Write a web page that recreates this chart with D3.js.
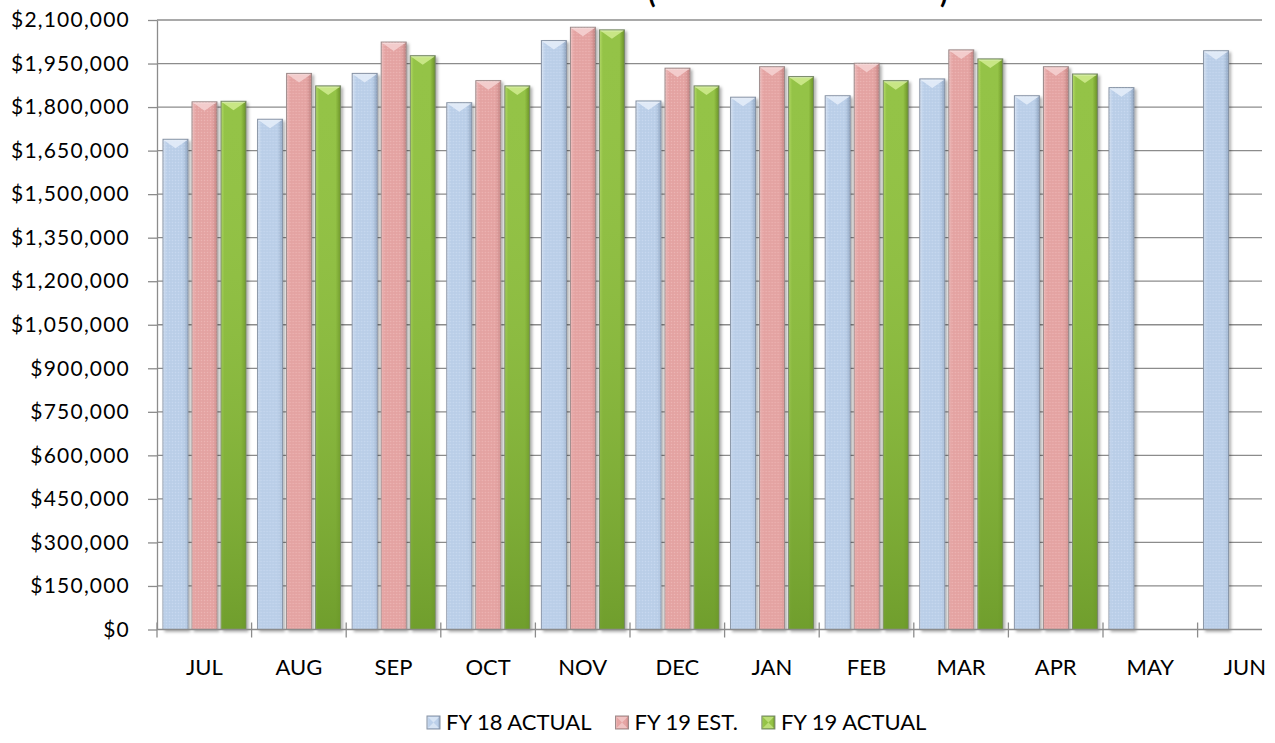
<!DOCTYPE html>
<html>
<head>
<meta charset="utf-8">
<script src="https://cdn.jsdelivr.net/npm/d3@7"></script>
<style>
  html, body { margin: 0; padding: 0; background: #ffffff; }
  svg { display: block; font-family: Lato, "Open Sans", sans-serif; }
</style>
</head>
<body>
<svg id="chart" width="1275" height="743"></svg>
<script>
// ---- data ----
const months = ["JUL", "AUG", "SEP", "OCT", "NOV", "DEC", "JAN", "FEB", "MAR", "APR", "MAY", "JUN"];
const seriesNames = ["FY 18 ACTUAL", "FY 19 EST.", "FY 19 ACTUAL"];
const fy18Actual = [1689000, 1758000, 1916000, 1815000, 2029000, 1821000, 1834000, 1839000, 1897000, 1839000, 1867000, 1994000];
const fy19Est    = [1818000, 1916000, 2024000, 1891000, 2075000, 1934000, 1939000, 1951000, 1997000, 1939000, null, null];
const fy19Actual = [1820000, 1873000, 1977000, 1873000, 2066000, 1873000, 1905000, 1891000, 1966000, 1914000, null, null];
const yTickValues = [0, 150000, 300000, 450000, 600000, 750000, 900000, 1050000, 1200000, 1350000, 1500000, 1650000, 1800000, 1950000, 2100000];
const titleParts = ["(", ")"];

// ---- bar styling per series ----
const seriesStyle = [
  { id: "blue",  left: "#dce8f6", body: "#bcd0ea", right: "#93a8c3", bottom: "#bcd0ea", bevel: "#e3ecf8", stroke: "#8591a3", speckle: true },
  { id: "pink",  left: "#f2c6c6", body: "#e6a5a4", right: "#c38584", bottom: "#e6a5a4", bevel: "#f4d0d0", stroke: "#9a8888", speckle: true },
  { id: "green", left: "#b4d96a", body: "#94c346", right: "#6a9127", bottom: "#6c9a2a", bevel: "#cdea8c", stroke: "#77876a", speckle: false }
];
const seriesValues = [fy18Actual, fy19Est, fy19Actual];

// ---- layout ----
const W = 1275, H = 743;
const plotLeft = 157, bandStep = 94.6, plotTop = 20, plotBottom = 629.5, plotRightVisible = 1262;

const svg = d3.select("#chart");
const defs = svg.append("defs");

const x = d3.scaleBand()
  .domain(months)
  .range([plotLeft, plotLeft + bandStep * months.length])
  .padding(0);

const xs = d3.scaleBand()
  .domain(seriesNames)
  .range([6, bandStep - 5.6])
  .paddingInner(0.14)
  .paddingOuter(0);

const y = d3.scaleLinear().domain([0, 2100000]).range([plotBottom, plotTop]);

// gradients
seriesStyle.forEach(s => {
  const g = defs.append("linearGradient").attr("id", "h-" + s.id)
    .attr("x1", "0").attr("x2", "1").attr("y1", "0").attr("y2", "0");
  g.append("stop").attr("offset", "0%").attr("stop-color", s.left);
  g.append("stop").attr("offset", "14%").attr("stop-color", s.body);
  g.append("stop").attr("offset", "80%").attr("stop-color", s.body);
  g.append("stop").attr("offset", "100%").attr("stop-color", s.right);

  const v = defs.append("linearGradient").attr("id", "v-" + s.id)
    .attr("x1", "0").attr("x2", "0").attr("y1", "0").attr("y2", "1");
  v.append("stop").attr("offset", "0%").attr("stop-color", s.body).attr("stop-opacity", 0);
  v.append("stop").attr("offset", "100%").attr("stop-color", s.bottom).attr("stop-opacity", 0.9);
});

// fine speckle texture
const pat = defs.append("pattern").attr("id", "speckle")
  .attr("width", 3).attr("height", 3).attr("patternUnits", "userSpaceOnUse");
pat.append("rect").attr("x", 0).attr("y", 0).attr("width", 1).attr("height", 1)
  .attr("fill", "#ffffff").attr("opacity", 0.18);
pat.append("rect").attr("x", 1.5).attr("y", 1.5).attr("width", 1).attr("height", 1)
  .attr("fill", "#000000").attr("opacity", 0.04);

// soft shadow
const f = defs.append("filter").attr("id", "shadow")
  .attr("x", "-20%").attr("y", "-5%").attr("width", "150%").attr("height", "115%");
f.append("feDropShadow").attr("dx", 2).attr("dy", 2).attr("stdDeviation", 1.6)
  .attr("flood-color", "#000").attr("flood-opacity", 0.32);

// clip for plot region
defs.append("clipPath").attr("id", "plotClip")
  .append("rect").attr("x", 0).attr("y", 0).attr("width", plotRightVisible).attr("height", H);

// ---- title fragments along the top edge ----
svg.append("g").selectAll("text").data(titleParts).join("text")
  .attr("x", (d, i) => i === 0 ? 648 : 940)
  .attr("y", 3)
  .attr("font-size", 28)
  .attr("font-weight", "bold")
  .attr("fill", "#000")
  .text(d => d);

// ---- gridlines ----
const plot = svg.append("g").attr("clip-path", "url(#plotClip)");
plot.append("g").selectAll("line").data(yTickValues.filter(v => v > 0)).join("line")
  .attr("x1", plotLeft).attr("x2", x.range()[1])
  .attr("y1", d => y(d)).attr("y2", d => y(d))
  .attr("stroke", "#8c8c8c").attr("stroke-width", 1.3);

// ---- y axis ----
const yAxis = d3.axisLeft(y)
  .tickValues(yTickValues)
  .tickSize(9)
  .tickSizeOuter(0)
  .tickPadding(18)
  .tickFormat(d => "$" + d3.format(",")(d));
const yg = svg.append("g").attr("transform", `translate(${plotLeft},0)`).call(yAxis);
yg.select(".domain").attr("stroke", "#8c8c8c").attr("stroke-width", 1.3);
yg.selectAll(".tick line").attr("stroke", "#8c8c8c").attr("stroke-width", 1.3);
yg.selectAll(".tick text")
  .attr("font-family", "Lato, 'Open Sans', sans-serif")
  .attr("font-size", 21)
  .attr("letter-spacing", 1.2)
  .attr("fill", "#000");

// ---- bars ----
const barsG = plot.append("g");
seriesNames.forEach((name, si) => {
  const s = seriesStyle[si];
  const vals = seriesValues[si];
  const data = months.map((m, i) => ({ m, v: vals[i] })).filter(d => d.v != null);
  const bw = xs.bandwidth();
  const grp = barsG.append("g");
  const b = grp.selectAll("g").data(data).join("g")
    .attr("transform", d => `translate(${x(d.m) + xs(name)},0)`);

  b.append("rect")
    .attr("x", 0).attr("y", d => y(d.v))
    .attr("width", bw).attr("height", d => y(0) - y(d.v))
    .attr("fill", `url(#h-${s.id})`)
    .attr("stroke", s.stroke).attr("stroke-width", 1)
    .attr("filter", "url(#shadow)");

  b.append("rect")
    .attr("x", 0.5).attr("y", d => y(d.v))
    .attr("width", bw - 1).attr("height", d => y(0) - y(d.v))
    .attr("fill", `url(#v-${s.id})`);

  if (s.speckle) {
    b.append("rect")
      .attr("x", 0.5).attr("y", d => y(d.v))
      .attr("width", bw - 1).attr("height", d => y(0) - y(d.v))
      .attr("fill", "url(#speckle)");
  }

  // top bevel chevron
  b.append("path")
    .attr("d", d => {
      const t = y(d.v);
      return `M1,${t + 1} L${bw - 1},${t + 1} L${bw / 2},${t + 9} Z`;
    })
    .attr("fill", s.bevel).attr("opacity", 0.9);
  // thin top highlight
  b.append("line")
    .attr("x1", 1).attr("x2", bw - 1)
    .attr("y1", d => y(d.v) + 1).attr("y2", d => y(d.v) + 1)
    .attr("stroke", "#ffffff").attr("stroke-opacity", 0.45);
});

// ---- x axis ----
plot.append("line")
  .attr("x1", plotLeft).attr("x2", x.range()[1])
  .attr("y1", y(0)).attr("y2", y(0))
  .attr("stroke", "#8c8c8c").attr("stroke-width", 1.3);

const boundaries = months.map(m => x(m)).concat([x.range()[1]]);
plot.append("g").selectAll("line").data(boundaries).join("line")
  .attr("x1", d => d).attr("x2", d => d)
  .attr("y1", y(0) - 7).attr("y2", y(0) + 8)
  .attr("stroke", "#8c8c8c").attr("stroke-width", 1.3);

const xAxis = d3.axisBottom(x).tickSize(0).tickPadding(30).tickSizeOuter(0);
const xg = svg.append("g").attr("transform", `translate(0,${plotBottom})`).call(xAxis);
xg.select(".domain").remove();
xg.selectAll(".tick text")
  .attr("font-family", "Lato, 'Open Sans', sans-serif")
  .attr("font-size", 22)
  .attr("fill", "#000");

// ---- legend ----
const legend = svg.append("g").attr("transform", "translate(427,730)");
let cursor = 0;
seriesNames.forEach((name, si) => {
  const s = seriesStyle[si];
  const item = legend.append("g").attr("transform", `translate(${cursor},0)`);
  item.append("rect")
    .attr("x", 0).attr("y", -14).attr("width", 13).attr("height", 13)
    .attr("fill", `url(#h-${s.id})`).attr("stroke", s.stroke).attr("stroke-width", 1);
  item.append("path")
    .attr("d", "M1,-13 L12,-13 L6.5,-7.5 Z M1,-2 L12,-2 L6.5,-7.5 Z")
    .attr("fill", s.bevel).attr("opacity", 0.7);
  const t = item.append("text")
    .attr("x", 19).attr("y", 0)
    .attr("font-family", "Lato, 'Open Sans', sans-serif")
    .attr("font-size", 22)
    .attr("fill", "#000")
    .text(name);
  cursor += 19 + t.node().getComputedTextLength() + 24;
});
</script>
</body>
</html>
